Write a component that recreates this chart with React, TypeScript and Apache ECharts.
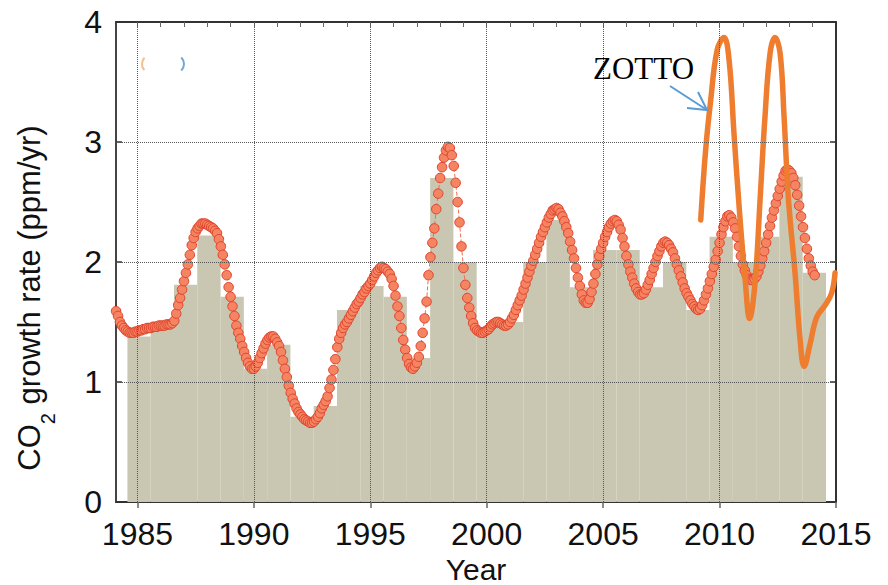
import React, { useEffect, useRef } from "react";
import * as echarts from "echarts";

// ---- data ----
const barYears = [1985, 1986, 1987, 1988, 1989, 1990, 1991, 1992, 1993, 1994, 1995, 1996, 1997, 1998, 1999,
  2000, 2001, 2002, 2003, 2004, 2005, 2006, 2007, 2008, 2009, 2010, 2011, 2012, 2013, 2014];
const barValues = [1.38, 1.45, 1.81, 2.22, 1.71, 1.11, 1.31, 0.71, 0.80, 1.60, 1.80, 1.71, 1.20, 2.70, 2.00,
  1.45, 1.50, 2.00, 2.35, 1.79, 2.10, 2.10, 1.79, 2.00, 1.60, 2.21, 2.00, 2.21, 2.71, 1.91];

// monthly smoothed growth rate; first point at 1984 + 1/12, one point per month
const MONTHLY_START = 1984;
const monthlyRate = [
  /*1984*/ 1.59, 1.55, 1.50, 1.47, 1.45, 1.43, 1.42, 1.41, 1.41, 1.41, 1.42,
  /*1985*/ 1.42, 1.43, 1.43, 1.44, 1.44, 1.45, 1.45, 1.45, 1.46, 1.46, 1.46, 1.47,
  /*1986*/ 1.47, 1.47, 1.47, 1.48, 1.48, 1.48, 1.49, 1.51, 1.57, 1.64, 1.70, 1.77,
  /*1987*/ 1.84, 1.91, 1.98, 2.06, 2.14, 2.20, 2.25, 2.28, 2.30, 2.32, 2.32, 2.32,
  /*1988*/ 2.31, 2.30, 2.29, 2.28, 2.26, 2.24, 2.19, 2.13, 2.06, 1.98, 1.89, 1.79,
  /*1989*/ 1.71, 1.63, 1.55, 1.47, 1.41, 1.36, 1.30, 1.25, 1.20, 1.16, 1.13, 1.11,
  /*1990*/ 1.11, 1.13, 1.16, 1.20, 1.24, 1.28, 1.32, 1.35, 1.37, 1.38, 1.38, 1.36,
  /*1991*/ 1.33, 1.30, 1.25, 1.18, 1.11, 1.04, 0.97, 0.91, 0.86, 0.82, 0.78, 0.75,
  /*1992*/ 0.73, 0.71, 0.69, 0.68, 0.67, 0.66, 0.66, 0.67, 0.69, 0.71, 0.74, 0.78,
  /*1993*/ 0.81, 0.84, 0.88, 0.95, 1.02, 1.10, 1.19, 1.29, 1.36, 1.41, 1.45, 1.48,
  /*1994*/ 1.50, 1.53, 1.56, 1.59, 1.62, 1.65, 1.67, 1.70, 1.73, 1.75, 1.78, 1.80,
  /*1995*/ 1.82, 1.85, 1.88, 1.91, 1.93, 1.95, 1.96, 1.95, 1.94, 1.92, 1.90, 1.86,
  /*1996*/ 1.80, 1.72, 1.63, 1.55, 1.45, 1.35, 1.27, 1.20, 1.15, 1.12, 1.11, 1.13,
  /*1997*/ 1.16, 1.21, 1.30, 1.41, 1.53, 1.67, 1.89, 2.04, 2.16, 2.28, 2.44, 2.57,
  /*1998*/ 2.70, 2.79, 2.87, 2.93, 2.96, 2.95, 2.89, 2.80, 2.66, 2.50, 2.33, 2.13,
  /*1999*/ 1.95, 1.81, 1.70, 1.62, 1.55, 1.49, 1.45, 1.43, 1.42, 1.41, 1.41, 1.42,
  /*2000*/ 1.43, 1.44, 1.46, 1.48, 1.49, 1.50, 1.50, 1.49, 1.48, 1.47, 1.47, 1.48,
  /*2001*/ 1.50, 1.53, 1.56, 1.60, 1.64, 1.68, 1.72, 1.77, 1.82, 1.87, 1.92, 1.97,
  /*2002*/ 2.01, 2.06, 2.11, 2.16, 2.21, 2.25, 2.29, 2.33, 2.37, 2.40, 2.43, 2.44,
  /*2003*/ 2.45, 2.44, 2.41, 2.38, 2.34, 2.29, 2.24, 2.17, 2.10, 2.03, 1.95, 1.87,
  /*2004*/ 1.80, 1.73, 1.68, 1.66, 1.66, 1.69, 1.75, 1.82, 1.90, 1.98, 2.05, 2.11,
  /*2005*/ 2.16, 2.21, 2.25, 2.29, 2.32, 2.34, 2.35, 2.34, 2.31, 2.27, 2.20, 2.13,
  /*2006*/ 2.05, 1.98, 1.92, 1.87, 1.82, 1.78, 1.75, 1.73, 1.73, 1.74, 1.77, 1.81,
  /*2007*/ 1.85, 1.90, 1.95, 2.00, 2.05, 2.09, 2.13, 2.16, 2.17, 2.16, 2.14, 2.11,
  /*2008*/ 2.08, 2.03, 1.98, 1.93, 1.88, 1.83, 1.78, 1.74, 1.71, 1.68, 1.65, 1.63,
  /*2009*/ 1.61, 1.60, 1.61, 1.64, 1.68, 1.73, 1.78, 1.84, 1.90, 1.96, 2.02, 2.09,
  /*2010*/ 2.16, 2.23, 2.29, 2.34, 2.38, 2.39, 2.37, 2.33, 2.28, 2.21, 2.13, 2.05,
  /*2011*/ 1.98, 1.93, 1.89, 1.86, 1.85, 1.85, 1.86, 1.88, 1.92, 1.97, 2.03, 2.09,
  /*2012*/ 2.16, 2.23, 2.30, 2.37, 2.43, 2.49, 2.55, 2.61, 2.67, 2.72, 2.76, 2.77,
  /*2013*/ 2.76, 2.74, 2.70, 2.64, 2.56, 2.47, 2.38, 2.29, 2.20, 2.11, 2.03, 1.97,
  /*2014*/ 1.92, 1.89,
];

// hand-drawn "ZOTTO" curve
const zottoYears = [2009.19, 2009.4, 2009.62, 2009.9, 2010.19, 2010.41, 2010.62, 2010.84, 2011.1, 2011.29,
  2011.52, 2011.74, 2011.95, 2012.17, 2012.38, 2012.6, 2012.77, 2012.96, 2013.24, 2013.46, 2013.63,
  2013.89, 2014.17, 2014.53, 2014.81, 2014.96];
const zottoValues = [2.35, 2.93, 3.35, 3.77, 3.87, 3.68, 3.07, 2.46, 1.85, 1.53,
  1.82, 2.52, 3.21, 3.74, 3.87, 3.74, 3.21, 2.52, 1.91, 1.35, 1.13,
  1.32, 1.54, 1.64, 1.74, 1.91];

const xLabelYears = [1985, 1990, 1995, 2000, 2005, 2010, 2015];
const xGridYears = [1985, 1990, 1995, 2000, 2005, 2010];
const xMinorYears = Array.from({ length: 30 }, (_, i) => 1985 + i);
const yGridValues = [1, 2, 3];

const X_MIN = 1984.08;
const X_MAX = 2015;

export default function App() {
  const ref = useRef<HTMLDivElement>(null);
  useEffect(() => {
    if (!ref.current) return;
    const chart = echarts.init(ref.current, null, { renderer: "svg" });
    const font = "Liberation Sans";
    const axisCommon = { type: "value", min: X_MIN, max: X_MAX };
    chart.setOption({
      animation: false,
      backgroundColor: "#ffffff",
      textStyle: { fontFamily: font },
      grid: { left: 116, right: 52, top: 22, bottom: 83, containLabel: false, outerBoundsMode: "none" },
      xAxis: [
        {
          ...axisCommon,
          position: "bottom",
          name: "Year",
          nameLocation: "middle",
          nameGap: 50,
          nameTextStyle: { fontSize: 30, color: "#111", fontFamily: font, lineHeight: 30 },
          axisLine: { show: true, lineStyle: { color: "#333", width: 2 } },
          axisTick: { show: true, customValues: xLabelYears, length: 6, inside: false, lineStyle: { color: "#666", width: 1.5 } },
          axisLabel: {
            customValues: xLabelYears,
            fontSize: 32,
            color: "#111",
            margin: 16,
            fontFamily: font,
            formatter: (v: number) => String(Math.round(v)),
          },
          splitLine: { show: false },
        },
        {
          ...axisCommon,
          position: "bottom",
          axisLine: { show: false },
          axisTick: { show: true, customValues: xMinorYears, length: 4, inside: true, lineStyle: { color: "#777", width: 1 } },
          axisLabel: { show: false },
          splitLine: { show: false },
        },
        {
          ...axisCommon,
          position: "top",
          axisLine: { show: true, lineStyle: { color: "#333", width: 2 } },
          axisTick: { show: true, customValues: xMinorYears, length: 5, inside: true, lineStyle: { color: "#666", width: 1 } },
          axisLabel: { show: false },
          splitLine: { show: false },
        },
      ],
      yAxis: [
        {
          type: "value",
          min: 0,
          max: 4,
          interval: 1,
          position: "left",
          name: "{a|CO}{s|2}{a| growth rate (ppm/yr)}",
          nameLocation: "middle",
          nameGap: 68,
          nameRotate: 90,
          nameTextStyle: {
            color: "#111",
            padding: [0, 72, 0, 0],
            rich: {
              a: { fontSize: 31, fontFamily: font, color: "#111", lineHeight: 38 },
              s: { fontSize: 20, fontFamily: font, color: "#111", verticalAlign: "bottom", lineHeight: 38, padding: [0, 0, -10, 0] },
            },
          },
          axisLine: { show: true, lineStyle: { color: "#444", width: 2 } },
          axisTick: { show: true, inside: true, length: 6, lineStyle: { color: "#333", width: 1.5 } },
          axisLabel: { fontSize: 32, color: "#111", margin: 14, fontFamily: font },
          splitLine: { show: false },
        },
        {
          type: "value",
          min: 0,
          max: 4,
          interval: 1,
          position: "right",
          axisLine: { show: true, lineStyle: { color: "#333", width: 2 } },
          axisTick: { show: true, inside: true, length: 6, lineStyle: { color: "#333", width: 1.5 } },
          axisLabel: { show: false },
          splitLine: { show: false },
        },
      ],
      series: [
        {
          type: "custom",
          name: "annual",
          xAxisIndex: 0,
          yAxisIndex: 0,
          z: 1,
          data: barYears.map((y, i) => [y, barValues[i]]),
          renderItem: (params: any, api: any) => {
            const yr = api.value(0);
            const v = api.value(1);
            const p0 = api.coord([yr - 0.43, v]);
            const p1 = api.coord([yr + 0.57, 0]);
            return {
              type: "rect",
              shape: { x: p0[0], y: p0[1], width: p1[0] - p0[0], height: p1[1] - p0[1] },
              style: { fill: "#c9c7b1" },
            };
          },
        },
        {
          type: "line",
          name: "grid",
          xAxisIndex: 0,
          yAxisIndex: 0,
          z: 2,
          data: [],
          markLine: {
            silent: true,
            symbol: "none",
            label: { show: false },
            lineStyle: { type: "dotted", color: "#555", width: 1 },
            data: [
              ...xGridYears.map((v) => ({ xAxis: v })),
              ...yGridValues.map((v) => ({ yAxis: v })),
            ],
          },
        },
        {
          type: "line",
          name: "monthly",
          xAxisIndex: 0,
          yAxisIndex: 0,
          z: 3,
          data: monthlyRate.map((v, i) => [MONTHLY_START + (i + 1) / 12, v]),
          symbol: "circle",
          symbolSize: 9.5,
          showAllSymbol: true,
          itemStyle: { color: "#f58462", borderColor: "#e0442c", borderWidth: 1 },
          lineStyle: { color: "#ec7055", width: 1, type: "dashed" },
        },
        {
          type: "line",
          name: "ZOTTO",
          xAxisIndex: 0,
          yAxisIndex: 0,
          z: 4,
          data: zottoYears.map((y, i) => [y, zottoValues[i]]),
          symbol: "none",
          smooth: 0.4,
          lineStyle: { color: "#ee7d2f", width: 5.5, cap: "round" },
        },
      ],
      graphic: [
        {
          type: "text",
          left: 593,
          top: 53,
          z: 10,
          style: { text: "ZOTTO", fontSize: 31, fontFamily: "Liberation Serif", fill: "#000" },
        },
        {
          type: "polyline",
          z: 10,
          shape: { points: [[670, 86], [707, 110]] },
          style: { stroke: "#5b9bd5", lineWidth: 2, fill: "none" },
        },
        {
          type: "polyline",
          z: 10,
          shape: { points: [[687, 108], [707, 110], [698, 92]] },
          style: { stroke: "#5b9bd5", lineWidth: 2, fill: "none" },
        },
        {
          type: "arc",
          z: 10,
          shape: { cx: 151, cy: 64, r: 9, startAngle: 2.4, endAngle: 3.9 },
          style: { stroke: "#f0c08e", lineWidth: 2, fill: "none" },
        },
        {
          type: "arc",
          z: 10,
          shape: { cx: 175, cy: 64, r: 9, startAngle: -0.8, endAngle: 0.8 },
          style: { stroke: "#6fa8d8", lineWidth: 2, fill: "none" },
        },
      ],
    });
    return () => chart.dispose();
  }, []);
  return <div ref={ref} style={{ position: "fixed", left: 0, top: 0, width: 888, height: 585 }} />;
}
